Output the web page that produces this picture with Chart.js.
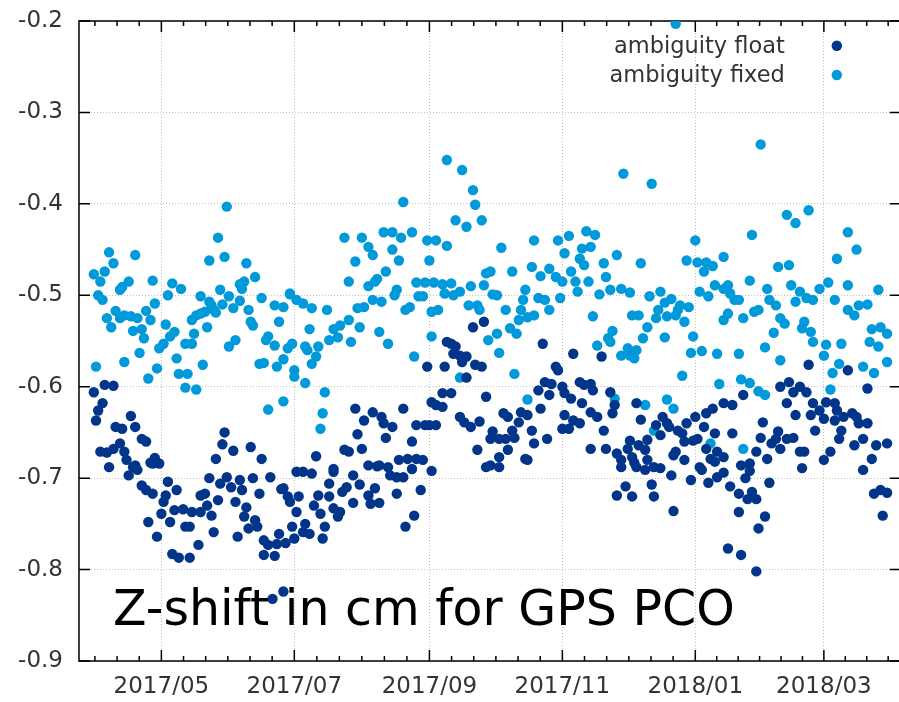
<!DOCTYPE html>
<html>
<head>
<meta charset="utf-8">
<script src="https://cdn.jsdelivr.net/npm/chart.js@4.4.1/dist/chart.umd.min.js"></script>
<style>
html,body{margin:0;padding:0;background:#fff;overflow:hidden}
#wrap{width:906px;height:702px;position:relative}
</style>
</head>
<body>
<div id="wrap"><canvas id="c"></canvas></div>
<script>
const seriesNames = ['ambiguity float', 'ambiguity fixed'];
const titleText = 'Z-shift in cm for GPS PCO';
// x values: days since 2017-05-01
const xTickDays = [0, 61, 123, 184, 245, 304];
const xTickLabels = ['2017/05', '2017/07', '2017/09', '2017/11', '2018/01', '2018/03'];
const yTicks = [-0.9, -0.8, -0.7, -0.6, -0.5, -0.4, -0.3, -0.2];
const yTickLabels = ['-0.9', '-0.8', '-0.7', '-0.6', '-0.5', '-0.4', '-0.3', '-0.2'];

const floatDays = [
-31,-26,-22,-27,-29,-30,-14,-21,-18,-12,-9,-7,-19,-28,-25,-22,-17,-16,-12,-3,-4,-1,-24,29,28,33,41,25,46,
-15,-13,-11,-9,-7,-4,-5,-6,-2,0,1,2,3,7,4,6,10,11,13,5,8,13,17,14,18,18,20,21,23,24,22,26,27,30,32,34,35,36,37,39,38,40,43,44,42,45,47,47,52,49,54,53,57,60,61,50,55,58,59,62,62,51,56,
56,63,65,69,66,65,68,70,72,77,77,79,73,75,74,79,81,82,83,85,88,91,88,95,95,96,98,100,99,104,105,108,111,108,112,116,115,119,124,149,155,168,
148,143,131,133,135,134,137,140,138,122,130,144,147,140,175,189,181,182,176,173,179,184,185,178,188,192,194,198,197,174,193,197,185,189,192,184,187,177,171,167,170,165,168,164,161,159,157,162,158,155,152,151,159,155,151,145,146,149,142,139,137,129,133,124,126,129,126,123,121,117,115,120,117,113,109,111,106,101,102,97,93,89,90,103,92,84,86,71,100,79,
202,297,315,324,206,200,208,207,203,218,220,215,219,223,227,230,232,233,229,197,204,209,211,216,218,222,223,237,239,241,245,250,253,258,262,267,249,246,244,240,236,235,254,258,262,252,275,276,280,278,283,282,284,287,290,291,287,284,288,290,293,296,299,298,300,302,304,305,309,310,309,313,317,319,320,324,312,311,318,322,328,333,326,307,304,295,293,273,266,270,247,240,226,250,254,255,214,211,
209,213,216,217,222,225,226,229,234,235,243,248,251,255,258,261,265,265,268,270,271,269,273,279,277,274,260,266,273,294,322,327,330,333,331
];
const floatShift = [
-0.606,-0.598,-0.599,-0.618,-0.626,-0.637,-0.632,-0.644,-0.646,-0.644,-0.657,-0.66,-0.662,-0.671,-0.672,-0.668,-0.671,-0.68,-0.686,-0.678,-0.684,-0.684,-0.688,-0.65,-0.663,-0.67,-0.666,-0.679,-0.679,
-0.697,-0.688,-0.691,-0.708,-0.713,-0.717,-0.683,-0.748,-0.764,-0.739,-0.726,-0.719,-0.704,-0.713,-0.748,-0.735,-0.734,-0.753,-0.753,-0.783,-0.787,-0.787,-0.773,-0.737,-0.737,-0.719,-0.717,-0.73,-0.741,-0.759,-0.7,-0.724,-0.706,-0.699,-0.71,-0.726,-0.764,-0.702,-0.713,-0.732,-0.742,-0.755,-0.746,-0.753,-0.7,-0.717,-0.768,-0.784,-0.785,-0.773,-0.761,-0.772,-0.771,-0.753,-0.766,-0.699,-0.712,-0.72,-0.726,-0.737,-0.693,-0.832,-0.824,
-0.711,-0.72,-0.693,-0.695,-0.75,-0.759,-0.761,-0.73,-0.719,-0.72,-0.706,-0.693,-0.739,-0.753,-0.766,-0.733,-0.742,-0.737,-0.715,-0.71,-0.697,-0.707,-0.727,-0.686,-0.719,-0.728,-0.711,-0.727,-0.687,-0.688,-0.697,-0.699,-0.699,-0.717,-0.753,-0.741,-0.69,-0.713,-0.692,-0.688,-0.688,-0.68,
-0.529,-0.535,-0.551,-0.553,-0.556,-0.564,-0.566,-0.567,-0.573,-0.578,-0.578,-0.576,-0.578,-0.59,-0.553,-0.564,-0.578,-0.582,-0.595,-0.604,-0.597,-0.6,-0.607,-0.609,-0.613,-0.595,-0.598,-0.604,-0.597,-0.624,-0.618,-0.628,-0.631,-0.637,-0.64,-0.646,-0.646,-0.657,-0.662,-0.679,-0.648,-0.628,-0.631,-0.639,-0.648,-0.633,-0.629,-0.656,-0.657,-0.657,-0.649,-0.657,-0.669,-0.677,-0.686,-0.669,-0.638,-0.611,-0.644,-0.639,-0.633,-0.607,-0.607,-0.617,-0.62,-0.622,-0.642,-0.642,-0.642,-0.642,-0.66,-0.68,-0.679,-0.679,-0.68,-0.624,-0.644,-0.633,-0.64,-0.628,-0.637,-0.624,-0.652,-0.656,-0.668,-0.669,-0.671,-0.676,-0.686,-0.69,
-0.567,-0.576,-0.582,-0.602,-0.606,-0.633,-0.62,-0.629,-0.648,-0.618,-0.636,-0.659,-0.664,-0.658,-0.642,-0.633,-0.64,-0.644,-0.653,-0.668,-0.668,-0.673,-0.68,-0.677,-0.688,-0.669,-0.68,-0.648,-0.651,-0.64,-0.633,-0.629,-0.624,-0.618,-0.62,-0.609,-0.644,-0.657,-0.659,-0.66,-0.671,-0.675,-0.651,-0.677,-0.651,-0.679,-0.656,-0.639,-0.662,-0.679,-0.649,-0.657,-0.668,-0.657,-0.656,-0.631,-0.618,-0.6,-0.595,-0.606,-0.6,-0.606,-0.618,-0.631,-0.648,-0.626,-0.635,-0.617,-0.618,-0.626,-0.637,-0.633,-0.629,-0.633,-0.64,-0.64,-0.648,-0.657,-0.664,-0.657,-0.664,-0.662,-0.679,-0.671,-0.68,-0.671,-0.671,-0.671,-0.686,-0.684,-0.688,-0.68,-0.688,-0.668,-0.682,-0.671,-0.668,-0.688,
-0.719,-0.709,-0.72,-0.683,-0.691,-0.707,-0.72,-0.689,-0.697,-0.736,-0.702,-0.691,-0.705,-0.699,-0.694,-0.709,-0.717,-0.737,-0.7,-0.692,-0.715,-0.723,-0.723,-0.705,-0.742,-0.755,-0.777,-0.784,-0.802,-0.689,-0.691,-0.717,-0.713,-0.716,-0.741
];

const fixedDays = [
30,26,131,138,143,144,147,135,140,111,84,92,102,106,110,115,122,126,171,182,187,195,199,236,212,225,275,287,291,297,245,271,315,
-24,-12,-22,-26,-31,-28,-15,-18,-19,-4,5,9,-29,-27,3,-3,18,22,22,29,39,43,36,38,37,27,31,36,24,28,33,25,40,46,52,56,59,62,23,14,16,18,20,21,15,11,14,6,4,2,1,-1,7,8,12,19,11,16,-2,-6,-10,-8,-9,-13,-5,-7,-11,-14,-17,-21,-19,-25,-23,-17,-30,31,34,41,42,48,49,52,54,58,60,45,47,53,56,61,61,49,56,
95,97,89,106,109,103,99,98,95,86,108,107,131,123,117,121,125,129,133,137,134,130,120,118,142,148,152,154,149,151,156,161,170,174,178,185,193,197,192,194,181,184,188,190,191,196,183,124,127,141,145,146,158,166,167,165,164,168,171,173,176,178,154,160,163,150,155,162,168,124,116,137,198,59,65,69,76,68,66,67,72,71,69,66,75,74,73,79,82,77,81,86,87,91,90,93,97,100,101,104,112,114,
203,204,209,220,201,206,211,215,224,229,228,231,234,237,238,242,232,227,240,236,216,219,223,221,231,207,205,206,200,211,214,215,217,218,244,243,248,255,265,239,256,266,270,274,277,284,277,281,267,272,274,258,260,265,263,261,260,258,254,251,247,270,278,279,282,284,286,289,293,291,296,299,302,306,309,295,294,298,299,305,304,312,311,308,307,315,318,320,324,315,329,326,330,333,325,329,333,322,327,319,310,288,283,241,246,250,249,253,258,208,222,232,235,226,252,267
];
const fixedShift = [
-0.403,-0.437,-0.352,-0.363,-0.385,-0.401,-0.418,-0.418,-0.425,-0.398,-0.437,-0.437,-0.431,-0.431,-0.437,-0.431,-0.44,-0.44,-0.44,-0.44,-0.435,-0.43,-0.434,-0.203,-0.367,-0.378,-0.335,-0.412,-0.421,-0.407,-0.44,-0.434,-0.431,
-0.453,-0.456,-0.465,-0.474,-0.477,-0.485,-0.485,-0.491,-0.494,-0.484,-0.487,-0.493,-0.5,-0.505,-0.5,-0.509,-0.501,-0.507,-0.462,-0.458,-0.465,-0.48,-0.488,-0.485,-0.493,-0.494,-0.501,-0.506,-0.516,-0.51,-0.514,-0.519,-0.516,-0.503,-0.511,-0.513,-0.499,-0.505,-0.511,-0.527,-0.522,-0.52,-0.518,-0.535,-0.542,-0.553,-0.553,-0.54,-0.545,-0.532,-0.553,-0.558,-0.569,-0.586,-0.586,-0.576,-0.601,-0.603,-0.58,-0.591,-0.563,-0.547,-0.537,-0.539,-0.527,-0.517,-0.525,-0.523,-0.522,-0.517,-0.525,-0.525,-0.535,-0.573,-0.578,-0.556,-0.549,-0.529,-0.533,-0.549,-0.545,-0.555,-0.529,-0.558,-0.553,-0.575,-0.574,-0.578,-0.57,-0.582,-0.589,-0.625,-0.616,
-0.447,-0.456,-0.463,-0.45,-0.462,-0.474,-0.482,-0.485,-0.49,-0.485,-0.494,-0.5,-0.446,-0.462,-0.486,-0.486,-0.486,-0.488,-0.487,-0.496,-0.5,-0.498,-0.501,-0.501,-0.49,-0.489,-0.499,-0.5,-0.476,-0.474,-0.448,-0.474,-0.469,-0.479,-0.471,-0.454,-0.449,-0.447,-0.46,-0.467,-0.48,-0.485,-0.474,-0.485,-0.496,-0.485,-0.503,-0.518,-0.516,-0.511,-0.511,-0.516,-0.516,-0.505,-0.494,-0.516,-0.527,-0.524,-0.522,-0.503,-0.505,-0.516,-0.542,-0.536,-0.542,-0.549,-0.563,-0.586,-0.614,-0.545,-0.567,-0.59,-0.523,-0.498,-0.509,-0.514,-0.516,-0.537,-0.556,-0.56,-0.556,-0.567,-0.575,-0.596,-0.606,-0.629,-0.646,-0.537,-0.533,-0.549,-0.546,-0.527,-0.551,-0.535,-0.514,-0.513,-0.505,-0.54,-0.507,-0.553,-0.516,-0.513,
-0.465,-0.48,-0.456,-0.465,-0.499,-0.494,-0.493,-0.497,-0.501,-0.496,-0.516,-0.508,-0.504,-0.516,-0.511,-0.513,-0.523,-0.525,-0.529,-0.522,-0.522,-0.522,-0.535,-0.547,-0.546,-0.539,-0.547,-0.551,-0.555,-0.566,-0.558,-0.566,-0.569,-0.56,-0.545,-0.563,-0.561,-0.564,-0.564,-0.588,-0.597,-0.592,-0.596,-0.605,-0.609,-0.571,-0.557,-0.541,-0.525,-0.518,-0.516,-0.527,-0.52,-0.505,-0.505,-0.498,-0.489,-0.493,-0.489,-0.501,-0.496,-0.484,-0.493,-0.505,-0.511,-0.525,-0.531,-0.489,-0.496,-0.507,-0.503,-0.505,-0.493,-0.486,-0.505,-0.529,-0.536,-0.54,-0.551,-0.554,-0.566,-0.553,-0.575,-0.585,-0.603,-0.516,-0.522,-0.511,-0.51,-0.489,-0.494,-0.537,-0.535,-0.542,-0.551,-0.556,-0.573,-0.578,-0.585,-0.45,-0.46,-0.467,-0.469,-0.462,-0.464,-0.464,-0.474,-0.468,-0.458,-0.613,-0.62,-0.614,-0.624,-0.648,-0.662,-0.668
];

const FONT = '"DejaVu Sans", Verdana, sans-serif';
const TEXT_COLOR = '#333333';
const FLOAT_COLOR = '#00358a';
const FIXED_COLOR = '#0099da';
const POINT_R = 5.2;

function toPoints(days, vals) {
  return days.map((d, i) => ({ x: d, y: vals[i] }));
}

function minorTickDays(scale) {
  const out = [];
  const n = xTickDays.length;
  for (let k = 0; k < n - 1; k++) {
    const st = (xTickDays[k + 1] - xTickDays[k]) / 6;
    for (let j = 1; j < 6; j++) out.push(xTickDays[k] + j * st);
  }
  const st0 = (xTickDays[1] - xTickDays[0]) / 6;
  for (let v = xTickDays[0] - st0; v > scale.min; v -= st0) out.push(v);
  const st1 = (xTickDays[n - 1] - xTickDays[n - 2]) / 6;
  for (let v = xTickDays[n - 1] + st1; v < scale.max; v += st1) out.push(v);
  return out;
}

const framePlugin = {
  id: 'frame',
  beforeDatasetsDraw(chart) {
    const { ctx, chartArea: a, scales } = chart;
    const xs = scales.x, ys = scales.y;
    ctx.save();
    ctx.strokeStyle = '#000';
    ctx.lineWidth = 1.5;
    ctx.strokeRect(a.left, a.top, a.right - a.left, a.bottom - a.top);
    ctx.beginPath();
    const MAJ = 11, MIN = 5;
    yTicks.forEach(v => {
      const p = ys.getPixelForValue(v);
      ctx.moveTo(a.left, p); ctx.lineTo(a.left + MAJ, p);
      ctx.moveTo(a.right, p); ctx.lineTo(a.right - MAJ, p);
    });
    xTickDays.forEach(v => {
      const p = xs.getPixelForValue(v);
      ctx.moveTo(p, a.bottom); ctx.lineTo(p, a.bottom - MAJ);
      ctx.moveTo(p, a.top); ctx.lineTo(p, a.top + MAJ);
    });
    minorTickDays(xs).forEach(v => {
      const p = xs.getPixelForValue(v);
      ctx.moveTo(p, a.bottom); ctx.lineTo(p, a.bottom - MIN);
      ctx.moveTo(p, a.top); ctx.lineTo(p, a.top + MIN);
    });
    ctx.stroke();
    ctx.restore();
  },
  afterDatasetsDraw(chart) {
    const { ctx, chartArea: a } = chart;
    ctx.save();
    // legend (text on the left, marker on the right, gnuplot style)
    ctx.font = '22.5px ' + FONT;
    ctx.textAlign = 'right';
    ctx.textBaseline = 'alphabetic';
    chart.data.datasets.forEach((ds, i) => {
      const yy = a.top + 24.7 + i * 29.3;
      ctx.fillStyle = TEXT_COLOR;
      ctx.fillText(ds.label, a.right - 116, yy + 7.2);
      ctx.fillStyle = ds.backgroundColor;
      ctx.beginPath();
      ctx.arc(a.right - 64, yy, ds.pointRadius, 0, Math.PI * 2);
      ctx.fill();
    });
    // large annotation text
    ctx.font = '49px ' + FONT;
    ctx.textAlign = 'left';
    ctx.fillStyle = '#000';
    ctx.fillText(titleText, a.left + 34, a.bottom - 36.5);
    ctx.restore();
  }
};

new Chart(document.getElementById('c'), {
  type: 'scatter',
  data: {
    datasets: [
      { label: seriesNames[0], data: toPoints(floatDays, floatShift), backgroundColor: FLOAT_COLOR, borderWidth: 0, pointRadius: POINT_R },
      { label: seriesNames[1], data: toPoints(fixedDays, fixedShift), backgroundColor: FIXED_COLOR, borderWidth: 0, pointRadius: POINT_R }
    ]
  },
  options: {
    responsive: true,
    maintainAspectRatio: false,
    animation: false,
    devicePixelRatio: 1,
    events: [],
    layout: { padding: { top: 21, right: 2, left: 0, bottom: 0 } },
    plugins: { legend: { display: false }, tooltip: { enabled: false }, title: { display: false } },
    scales: {
      x: {
        type: 'linear',
        position: 'bottom',
        min: -37.8,
        max: 339.3,
        afterBuildTicks: s => { s.ticks = xTickDays.map(v => ({ value: v })); },
        afterFit: s => { s.height = 41; s.paddingLeft = 0; s.paddingRight = 0; },
        ticks: {
          autoSkip: false, maxRotation: 0, minRotation: 0, padding: 12,
          color: TEXT_COLOR, font: { family: FONT, size: 23 },
          callback: v => { const i = xTickDays.indexOf(v); return i >= 0 ? xTickLabels[i] : ''; }
        },
        grid: { color: '#c2c2c2', lineWidth: 1, drawTicks: false },
        border: { display: false, dash: [1, 2] }
      },
      y: {
        min: -0.9,
        max: -0.2,
        afterBuildTicks: s => { s.ticks = yTicks.map(v => ({ value: v })); },
        afterFit: s => { s.width = 79; s.paddingTop = 0; s.paddingBottom = 0; },
        ticks: {
          padding: 16, color: TEXT_COLOR, font: { family: FONT, size: 23 },
          callback: v => { const i = yTicks.indexOf(v); return i >= 0 ? yTickLabels[i] : ''; }
        },
        grid: { color: '#c2c2c2', lineWidth: 1, drawTicks: false },
        border: { display: false, dash: [1, 2] }
      }
    }
  },
  plugins: [framePlugin]
});
</script>
</body>
</html>
